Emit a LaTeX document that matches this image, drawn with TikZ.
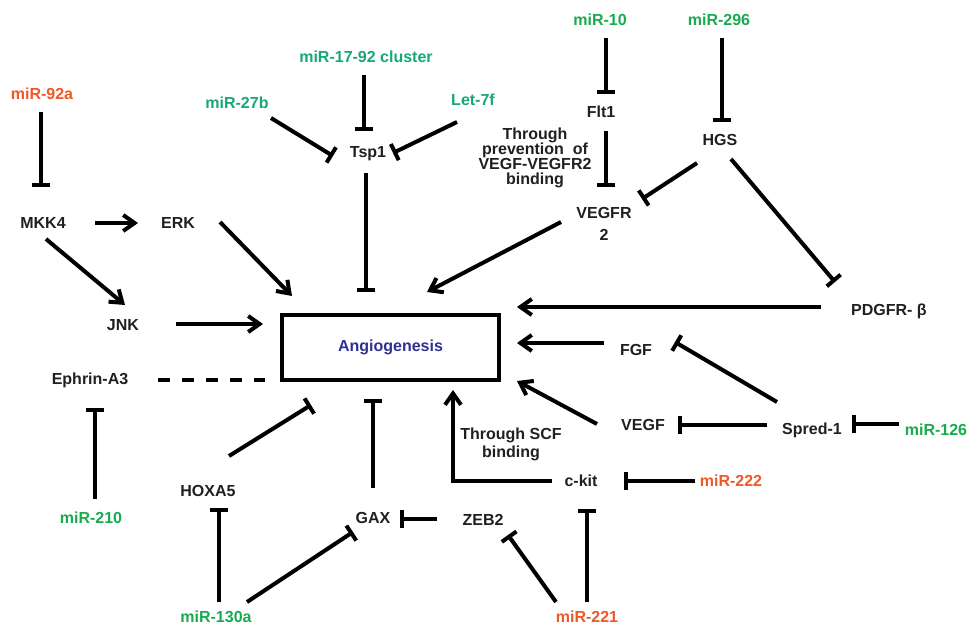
\documentclass[tikz,border=0pt]{standalone}
\usepackage{fontspec}
\setmainfont{Liberation Sans}
\usetikzlibrary{arrows.meta}
\definecolor{txt}{RGB}{35,31,32}
\definecolor{gA}{RGB}{26,170,80}
\definecolor{gB}{RGB}{24,168,120}
\definecolor{org}{RGB}{240,88,40}
\definecolor{blu}{RGB}{46,49,146}
\begin{document}
\begin{tikzpicture}[x=0.75pt,y=-0.75pt,
  lbl/.style={font=\bfseries\fontsize{12}{14}\selectfont, text=txt, inner sep=0pt},
  act/.style={line width=3pt, -{Straight Barb[length=8.5pt,width=12pt]}},
  inh/.style={line width=3pt, -{Bar[width=13.5pt]}},
  dsh/.style={line width=3pt, dash pattern=on 9pt off 9pt},
  elb/.style={line width=3pt, line join=miter, -{Straight Barb[length=8.5pt,width=12pt]}}
]
\useasboundingbox[fill=white] (0,0) rectangle (968,626);
% nodes
\node[lbl, text=org] (m92a) at (42,94) {miR-92a};
\node[lbl, text=gB] (m27b) at (237,103) {miR-27b};
\node[lbl, text=gB] (m1792) at (366,57) {miR-17-92 cluster};
\node[lbl, text=gB] (let7f) at (473,100) {Let-7f};
\node[lbl] (tsp) at (368,154) {Tsp1};
\node[lbl, text=gA] (m10) at (600,20) {miR-10};
\node[lbl, text=gA] (m296) at (719,20) {miR-296};
\node[lbl] (flt) at (601,112) {Flt1};
\node[lbl] (hgs) at (720,140) {HGS};
\node[lbl, align=center, font=\bfseries\fontsize{12}{11.25}\selectfont] (thr1) at (535,157.5) {Through\\prevention\ \ of\\VEGF-VEGFR2\\binding};
\node[lbl, align=center, font=\bfseries\fontsize{12}{16.5}\selectfont] (vegfr) at (604,224) {VEGFR\\2};
\node[lbl] (mkk4) at (43,223) {MKK4};
\node[lbl] (erk) at (178,223) {ERK};
\node[lbl] (jnk) at (123,325) {JNK};
\node[lbl] (eph) at (90,380) {Ephrin-A3};
\node[lbl, text=blu, draw=black, line width=2.5pt, minimum width=162.75pt, minimum height=48.75pt] (angio) at (390.5,347.5) {Angiogenesis};
\node[lbl] (pdgfr) at (889,311) {PDGFR- β};
\node[lbl] (fgf) at (636,350) {FGF};
\node[lbl] (vegf) at (643,425) {VEGF};
\node[lbl] (spred) at (812,430) {Spred-1};
\node[lbl, text=gA] (m126) at (936,430) {miR-126};
\node[lbl, align=center, font=\bfseries\fontsize{12}{13.5}\selectfont] (thr2) at (511,444) {Through SCF\\binding};
\node[lbl] (ckit) at (581,481) {c-kit};
\node[lbl, text=org] (m222) at (731,481) {miR-222};
\node[lbl] (hoxa5) at (208,491) {HOXA5};
\node[lbl, text=gA] (m210) at (91,518) {miR-210};
\node[lbl] (gax) at (373,518) {GAX};
\node[lbl] (zeb2) at (483,520) {ZEB2};
\node[lbl, text=gA] (m130a) at (216,617) {miR-130a};
\node[lbl, text=org] (m221) at (587,617) {miR-221};
% connectors
\draw[inh] ([shift={(-1,18)}]m92a.center) -- ([shift={(-2,-36)}]mkk4.center);
\draw[act] ([shift={(52,0)}]mkk4.center) -- ([shift={(-40,0)}]erk.center);
\draw[act] ([shift={(3,16)}]mkk4.center) -- ([shift={(2,-20)}]jnk.center);
\draw[act] ([shift={(42,-1)}]erk.center) -- ([shift={(-98.5,-51.5)}]angio.center);
\draw[act] ([shift={(53,-1)}]jnk.center) -- ([shift={(-127.5,-23.5)}]angio.center);
\draw[dsh] ([shift={(68,0)}]eph.center) -- ([shift={(-125.5,32.5)}]angio.center);
\draw[inh] ([shift={(4,-19)}]m210.center) -- ([shift={(5,28)}]eph.center);
\draw[inh] ([shift={(34,15)}]m27b.center) -- ([shift={(-35,2)}]tsp.center);
\draw[inh] ([shift={(-2,18)}]m1792.center) -- ([shift={(-4,-23)}]tsp.center);
\draw[inh] ([shift={(-16,22)}]let7f.center) -- ([shift={(25,-1)}]tsp.center);
\draw[inh] ([shift={(-2,19)}]tsp.center) -- ([shift={(-24.5,-55.5)}]angio.center);
\draw[inh] ([shift={(6,18)}]m10.center) -- ([shift={(5,-18)}]flt.center);
\draw[inh] ([shift={(5,19)}]flt.center) -- ([shift={(2,-37)}]vegfr.center);
\draw[inh] ([shift={(3,18)}]m296.center) -- ([shift={(2,-18)}]hgs.center);
\draw[inh] ([shift={(-23,23)}]hgs.center) -- ([shift={(38,-25)}]vegfr.center);
\draw[inh] ([shift={(11,19)}]hgs.center) -- ([shift={(-54,-29)}]pdgfr.center);
\draw[act] ([shift={(-43,-2)}]vegfr.center) -- ([shift={(36.5,-55.5)}]angio.center);
\draw[act] ([shift={(-68,-4)}]pdgfr.center) -- ([shift={(126.5,-40.5)}]angio.center);
\draw[act] ([shift={(-32,-7)}]fgf.center) -- ([shift={(126.5,-4.5)}]angio.center);
\draw[act] ([shift={(-46,-1)}]vegf.center) -- ([shift={(126.5,33.5)}]angio.center);
\draw[inh] ([shift={(-35,-28)}]spred.center) -- ([shift={(39,-8)}]fgf.center);
\draw[inh] ([shift={(-45,-5)}]spred.center) -- ([shift={(35,0)}]vegf.center);
\draw[inh] ([shift={(-37,-6)}]m126.center) -- ([shift={(40,-6)}]spred.center);
\draw[inh] ([shift={(-36,0)}]m222.center) -- ([shift={(43,0)}]ckit.center);
\draw[elb] ([shift={(-29,0)}]ckit.center) -| ([shift={(62.5,42.5)}]angio.center);
\draw[inh] ([shift={(0,-15)}]m221.center) -- ([shift={(6,28)}]ckit.center);
\draw[inh] ([shift={(-31,-15)}]m221.center) -- ([shift={(25,15)}]zeb2.center);
\draw[inh] ([shift={(-46,-1)}]zeb2.center) -- ([shift={(27,1)}]gax.center);
\draw[inh] ([shift={(0,-30)}]gax.center) -- ([shift={(-17.5,51.5)}]angio.center);
\draw[inh] ([shift={(21,-35)}]hoxa5.center) -- ([shift={(-79.5,57.5)}]angio.center);
\draw[inh] ([shift={(3,-15)}]m130a.center) -- ([shift={(11,17)}]hoxa5.center);
\draw[inh] ([shift={(31,-15)}]m130a.center) -- ([shift={(-20,14)}]gax.center);
\end{tikzpicture}
\end{document}
